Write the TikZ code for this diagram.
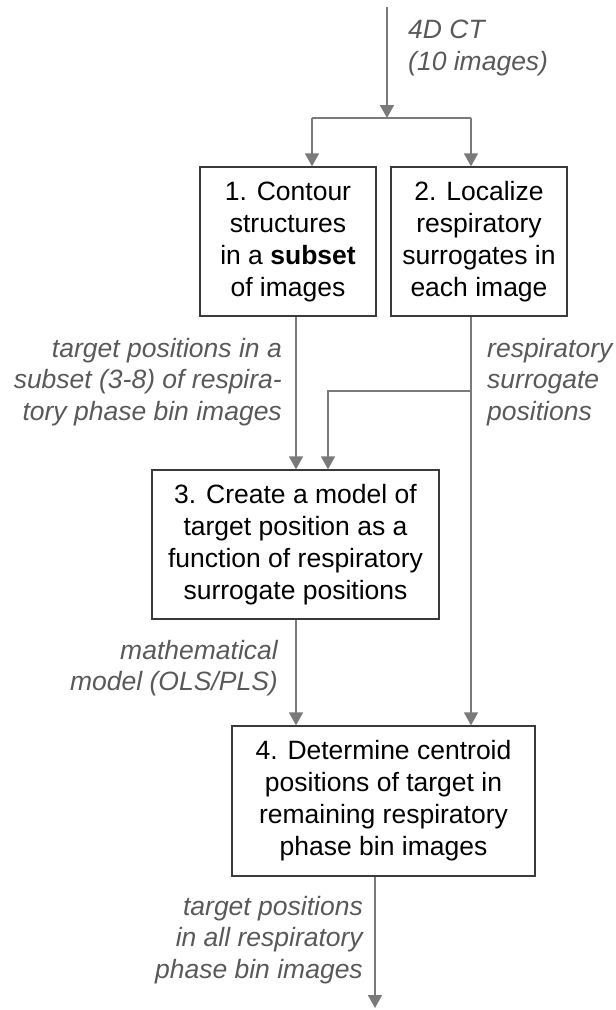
\documentclass[tikz,border=0pt]{standalone}
\usepackage{fontspec}
\setmainfont{Liberation Sans}
\usetikzlibrary{arrows.meta}
\definecolor{linegray}{HTML}{7A7A7A}
\definecolor{boxgray}{HTML}{3A3A3A}
\definecolor{labelgray}{HTML}{595959}
\tikzset{
  stepbox/.style={draw=boxgray, line width=1.4pt, fill=white, align=center,
    inner sep=0pt, font=\fontsize{26.5}{32}\selectfont, text=black},
  flow/.style={draw=linegray, line width=1.8pt,
    -{Triangle[width=14pt,length=13pt]}},
  plain/.style={draw=linegray, line width=1.8pt},
  note/.style={font=\fontsize{26.5}{31.5}\selectfont\itshape, text=labelgray, inner sep=0pt},
}
\begin{document}
\begin{tikzpicture}[x=1pt,y=-1pt]
\useasboundingbox (0,0) rectangle (616,1010);

% process steps
\node[stepbox, minimum width=176pt, minimum height=149pt] (b1) at (288,241.5)
  {1. Contour\\structures\\in a \textbf{subset}\\of images};
\node[stepbox, minimum width=176pt, minimum height=149pt] (b2) at (479,241.5)
  {2. Localize\\respiratory\\surrogates in\\each image};
\node[stepbox, minimum width=287pt, minimum height=149pt] (b3) at (295.5,544.5)
  {3. Create a model of\\target position as a\\function of respiratory\\surrogate positions};
\node[stepbox, minimum width=303pt, minimum height=150pt] (b4) at (383.5,801)
  {4. Determine centroid\\positions of target in\\remaining respiratory\\phase bin images};

% junction points
\coordinate (in) at (387,7);
\coordinate (split) at (387,118);
\coordinate (sl) at (312,118);
\coordinate (sr) at (471,118);
\coordinate (tap) at (471,391);
\coordinate (tapl) at (328,391);
\coordinate (out) at (375,1008);

% input and split
\draw[flow] (in) -- (split);
\draw[plain] (sl) -- (sr);
\draw[flow] (sl) -- (sl |- b1.north);
\draw[flow] (sr) -- (sr |- b2.north);

% step 1 and 2 outputs
\draw[flow] (b1.south -| 296,0) -- (b3.north -| 296,0);
\draw[flow] (b2.south -| tap) -- (b4.north -| tap);
\draw[flow] (tap) -- (tapl) -- (tapl |- b3.north);

% step 3 and 4 outputs
\draw[flow] (b3.south -| 296,0) -- (b4.north -| 296,0);
\draw[flow] (b4.south -| out) -- (out);

% data labels
\node[note, anchor=west, align=left] (l0) at (408,48) {4D CT\\(10 images)};
\node[note, anchor=east, align=right] (l1) at (282,382)
  {target positions in a\\subset (3-8) of respira-\\tory phase bin images};
\node[note, anchor=west, align=left] (l2) at (487,382)
  {respiratory\\surrogate\\positions};
\node[note, anchor=east, align=right] (l3) at (278,668)
  {mathematical\\model (OLS/PLS)};
\node[note, anchor=east, align=right] (l4) at (363,940)
  {target positions\\in all respiratory\\phase bin images};
\end{tikzpicture}
\end{document}
